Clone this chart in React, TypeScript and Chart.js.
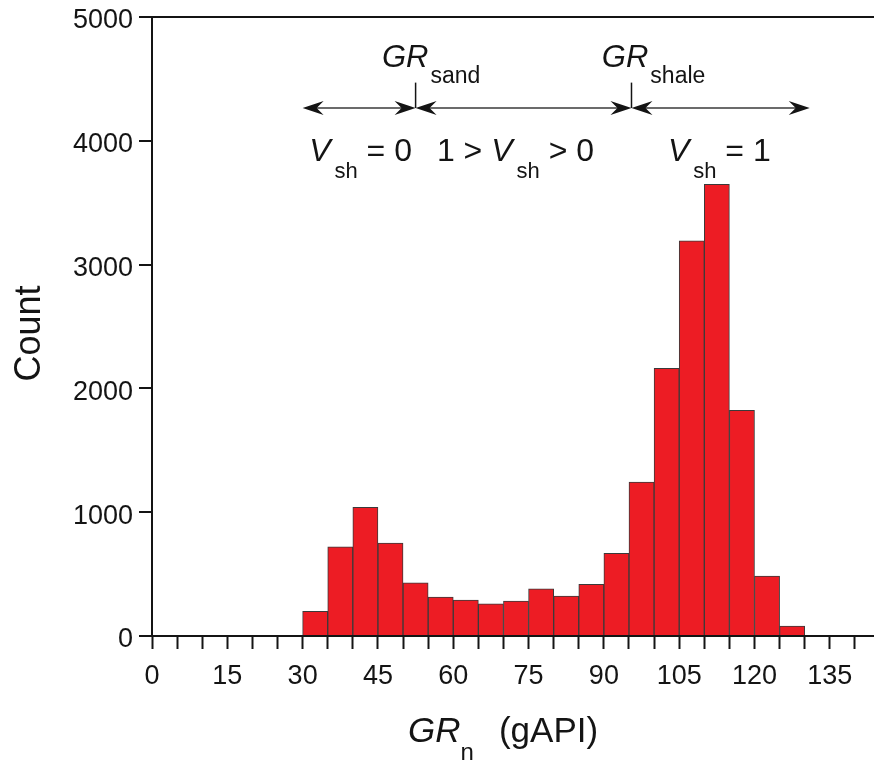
import { useEffect, useRef } from 'react';
import { Chart, registerables } from 'chart.js';

Chart.register(...registerables);

// Histogram of normalised gamma-ray readings (5 gAPI bins)
const binStarts = [30, 35, 40, 45, 50, 55, 60, 65, 70, 75, 80, 85, 90, 95, 100, 105, 110, 115, 120, 125];
const counts = [200, 720, 1040, 750, 430, 315, 290, 260, 283, 382, 323, 417, 668, 1244, 2162, 3193, 3648, 1823, 485, 81];
const binWidth = 5;

// Axis ranges and labelled ticks
const xMin = 0;
const xMax = 143.8;
const xStep = 5;
const xLabelEvery = 15;
const yMin = 0;
const yMax = 5000;
const yStep = 1000;

// Shale-volume zones along the GR axis
const zoneStart = 30;
const grSand = 52.5;
const grShale = 95.5;
const zoneEnd = 131;

// Vertical placement of the zone annotation (in count units)
const arrowLevel = 4265;
const markerTop = 4470;
const grLabelLevel = 4596;
const vshLabelLevel = 3837;

const FONT = '"Liberation Sans", Arial, Helvetica, sans-serif';
const INK = '#141414';

type Part = { t: string; italic?: boolean; sub?: boolean; gap?: number };

function drawRich(
  ctx: CanvasRenderingContext2D,
  x: number,
  base: number,
  parts: Part[],
  size: number,
  subSize: number,
  subDrop: number
) {
  let cx = x;
  for (const p of parts) {
    const s = p.sub ? subSize : size;
    ctx.font = `${p.italic ? 'italic ' : ''}${s}px ${FONT}`;
    ctx.fillText(p.t, cx, p.sub ? base + subDrop : base);
    cx += ctx.measureText(p.t).width + (p.gap ?? 0);
  }
}

function arrowHead(ctx: CanvasRenderingContext2D, x: number, y: number, dir: number) {
  const L = 21;
  const W = 7;
  const N = 14;
  ctx.beginPath();
  ctx.moveTo(x, y);
  ctx.lineTo(x - dir * L, y - W);
  ctx.lineTo(x - dir * N, y);
  ctx.lineTo(x - dir * L, y + W);
  ctx.closePath();
  ctx.fill();
}

function doubleArrow(ctx: CanvasRenderingContext2D, x1: number, x2: number, y: number) {
  ctx.beginPath();
  ctx.moveTo(x1 + 4, y);
  ctx.lineTo(x2 - 4, y);
  ctx.stroke();
  arrowHead(ctx, x1, y, -1);
  arrowHead(ctx, x2, y, 1);
}

const annotationPlugin = {
  id: 'zoneAnnotation',
  afterDraw(chart: Chart) {
    const { ctx, chartArea } = chart;
    const xs = chart.scales.x;
    const ys = chart.scales.y;
    ctx.save();
    ctx.fillStyle = INK;
    ctx.strokeStyle = '#3a3a3a';
    ctx.lineWidth = 1.5;

    const ay = ys.getPixelForValue(arrowLevel);
    const pStart = xs.getPixelForValue(zoneStart);
    const pSand = xs.getPixelForValue(grSand);
    const pShale = xs.getPixelForValue(grShale);
    const pEnd = xs.getPixelForValue(zoneEnd);

    doubleArrow(ctx, pStart, pSand, ay);
    doubleArrow(ctx, pSand, pShale, ay);
    doubleArrow(ctx, pShale, pEnd, ay);

    // boundary markers
    const mt = ys.getPixelForValue(markerTop);
    ctx.lineWidth = 1.5;
    ctx.strokeStyle = INK;
    for (const px of [pSand, pShale]) {
      ctx.beginPath();
      ctx.moveTo(px, mt);
      ctx.lineTo(px, ay);
      ctx.stroke();
    }

    ctx.textAlign = 'left';
    ctx.textBaseline = 'alphabetic';

    const grBase = ys.getPixelForValue(grLabelLevel);
    drawRich(ctx, xs.getPixelForValue(45.8), grBase,
      [{ t: 'GR', italic: true, gap: 2 }, { t: 'sand', sub: true }], 31, 23, 16);
    drawRich(ctx, xs.getPixelForValue(89.6), grBase,
      [{ t: 'GR', italic: true, gap: 2 }, { t: 'shale', sub: true }], 31, 23, 16);

    const vBase = ys.getPixelForValue(vshLabelLevel);
    drawRich(ctx, xs.getPixelForValue(31.3), vBase,
      [{ t: 'V', italic: true, gap: 4 }, { t: 'sh', sub: true }, { t: ' = 0' }], 32, 22, 17);
    drawRich(ctx, xs.getPixelForValue(56.75), vBase,
      [{ t: '1 > ' }, { t: 'V', italic: true, gap: 4 }, { t: 'sh', sub: true }, { t: ' > 0' }], 32, 22, 17);
    drawRich(ctx, xs.getPixelForValue(102.75), vBase,
      [{ t: 'V', italic: true, gap: 4 }, { t: 'sh', sub: true }, { t: ' = 1' }], 32, 22, 17);

    // x-axis title
    drawRich(ctx, xs.getPixelForValue(51), chartArea.bottom + 106,
      [{ t: 'GR', italic: true, gap: 0 }, { t: 'n', sub: true, gap: 25 }, { t: '(gAPI)' }], 35, 24, 18);

    // y-axis title
    ctx.save();
    ctx.translate(30, (chartArea.top + chartArea.bottom) / 2 + 7);
    ctx.rotate(-Math.PI / 2);
    ctx.textAlign = 'center';
    ctx.textBaseline = 'middle';
    ctx.font = `36px ${FONT}`;
    ctx.fillText('Count', 0, 0);
    ctx.restore();

    ctx.restore();
  },
};

export default function App() {
  const canvasRef = useRef<HTMLCanvasElement | null>(null);

  useEffect(() => {
    const canvas = canvasRef.current;
    if (!canvas) return;

    const points = binStarts.map((b, i) => ({ x: b + binWidth / 2, y: counts[i] }));

    const chart = new Chart(canvas, {
      type: 'bar',
      data: {
        datasets: [
          {
            data: points,
            backgroundColor: '#ED1C24',
            borderColor: '#3a3a3a',
            borderWidth: 1,
            borderSkipped: 'start',
            barPercentage: 1,
            categoryPercentage: 1,
          },
        ],
      },
      options: {
        responsive: false,
        animation: false,
        devicePixelRatio: 1,
        layout: { padding: { top: 17, right: 0, bottom: 0, left: 0 } },
        plugins: {
          legend: { display: false },
          tooltip: { enabled: false },
        },
        scales: {
          x: {
            type: 'linear',
            min: xMin,
            max: xMax,
            offset: false,
            z: 1,
            afterFit: (scale: any) => {
              scale.height = 124;
              scale.paddingLeft = 0;
              scale.paddingRight = 0;
            },
            grid: {
              offset: false,
              drawOnChartArea: false,
              drawTicks: true,
              tickLength: 13,
              tickWidth: 2,
              tickColor: INK,
            },
            border: { display: true, color: INK, width: 2 },
            ticks: {
              stepSize: xStep,
              includeBounds: false,
              autoSkip: false,
              maxRotation: 0,
              minRotation: 0,
              padding: 11,
              color: INK,
              font: { family: FONT, size: 27 },
              callback: (v: any) => (Number(v) % xLabelEvery === 0 ? String(v) : ''),
            },
          },
          y: {
            type: 'linear',
            min: yMin,
            max: yMax,
            afterFit: (scale: any) => {
              scale.width = 152;
              scale.paddingTop = 0;
              scale.paddingBottom = 0;
            },
            grid: {
              drawOnChartArea: true,
              color: (c: any) => (c.tick && c.tick.value === yMax ? INK : 'rgba(0,0,0,0)'),
              lineWidth: 2,
              drawTicks: true,
              tickLength: 13,
              tickWidth: 2,
              tickColor: INK,
            },
            border: { display: true, color: INK, width: 2 },
            ticks: {
              stepSize: yStep,
              padding: 6,
              labelOffset: 4,
              color: INK,
              font: { family: FONT, size: 27 },
              callback: (v: any) => String(v),
            },
          },
        },
      },
      plugins: [annotationPlugin],
    } as any);

    return () => {
      chart.destroy();
    };
  }, []);

  return (
    <canvas
      ref={canvasRef}
      width={874}
      height={760}
      style={{ position: 'fixed', left: 0, top: 0, width: 874, height: 760, background: '#fff' }}
    />
  );
}
